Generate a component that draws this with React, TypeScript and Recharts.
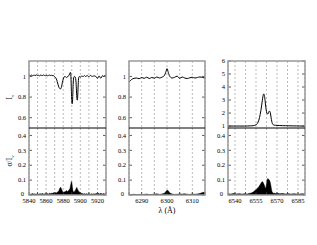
import { ComposedChart, Line, Area, XAxis, YAxis, CartesianGrid } from "recharts";

// Na I D region
const naWave = [
  5840, 5841, 5842, 5843, 5844, 5845, 5846, 5847, 5848, 5849,
  5850, 5851, 5852, 5853, 5854, 5855, 5856, 5857, 5858, 5859,
  5860, 5861, 5862, 5863, 5864, 5865, 5866, 5867, 5868, 5869,
  5870, 5871, 5872, 5873, 5874, 5875, 5876, 5877, 5878, 5879,
  5880, 5881, 5882, 5883, 5884, 5885, 5886, 5887, 5888,
  5888.5, 5889, 5889.5, 5890, 5890.5, 5891, 5891.5, 5892, 5893, 5894, 5895, 5895.5, 5896, 5896.5, 5897, 5897.5, 5898,
  5899, 5900, 5901, 5902, 5903, 5904, 5905, 5906, 5907, 5908,
  5909, 5910, 5911, 5912, 5913, 5914, 5915, 5916, 5917, 5918,
  5919, 5920, 5921, 5922, 5923, 5924, 5925, 5926, 5927, 5928, 5929, 5930,
];
const naFlux = [
  1.01, 1.012, 1.008, 1.013, 1.007, 1.01, 1.014, 1.008, 1.011, 1.015,
  1.009, 1.012, 1.006, 1.011, 1.014, 1.008, 1.01, 1.015, 1.01, 1.007,
  1.012, 1.01, 1.006, 1.011, 1.013, 1.009, 1.012, 1.008, 1.01, 1.005,
  0.998, 0.99, 0.975, 0.95, 0.92, 0.895, 0.882, 0.88, 0.9, 0.94,
  0.975, 0.995, 1.0, 0.995, 0.99, 0.995, 1.005, 1.015, 1.035,
  1.04, 1.0, 0.87, 0.76, 0.735, 0.78, 0.9, 0.975, 1.0, 0.995, 0.94, 0.86, 0.785, 0.77, 0.82, 0.92, 0.985,
  1.0, 0.995, 1.0, 1.005, 0.998, 1.003, 1.008, 1.0, 1.004, 1.009,
  1.003, 0.998, 1.005, 1.01, 1.004, 0.999, 1.006, 1.0, 1.008, 1.0,
  0.99, 0.982, 0.995, 1.005, 0.992, 0.983, 0.995, 1.008, 1.0, 1.005, 1.01, 1.008,
];
const naSigma = [
  0.006, 0.008, 0.005, 0.007, 0.01, 0.006, 0.008, 0.005, 0.007, 0.006,
  0.008, 0.005, 0.007, 0.009, 0.006, 0.008, 0.01, 0.006, 0.007, 0.009,
  0.007, 0.01, 0.008, 0.006, 0.011, 0.009, 0.012, 0.01, 0.013, 0.015,
  0.012, 0.016, 0.014, 0.018, 0.022, 0.03, 0.045, 0.052, 0.04, 0.025,
  0.018, 0.022, 0.02, 0.025, 0.03, 0.022, 0.028, 0.035, 0.045,
  0.06, 0.075, 0.09, 0.085, 0.06, 0.04, 0.025, 0.02, 0.022, 0.03, 0.04, 0.048, 0.05, 0.042, 0.035, 0.03, 0.025,
  0.02, 0.015, 0.012, 0.01, 0.008, 0.007, 0.009, 0.006, 0.008, 0.007,
  0.006, 0.009, 0.007, 0.005, 0.008, 0.006, 0.007, 0.009, 0.006, 0.008,
  0.01, 0.008, 0.012, 0.007, 0.009, 0.011, 0.008, 0.006, 0.01, 0.007, 0.009, 0.006,
];

// [O I] 6300 region
const oiWave = [
  6285, 6286, 6287, 6288, 6289, 6290, 6291, 6292, 6293, 6294,
  6295, 6296, 6297, 6298, 6299,
  6299.5, 6300, 6300.5,
  6301, 6302, 6303, 6304, 6305, 6306, 6307, 6308, 6309, 6310,
  6311, 6312, 6313, 6314, 6315,
];
const oiFlux = [
  0.945, 0.97, 0.982, 0.985, 0.978, 0.99, 0.982, 0.993, 0.98, 0.99,
  0.983, 0.995, 0.985, 0.993, 1.01,
  1.04, 1.075, 1.04,
  1.005, 0.985, 0.992, 1.003, 0.982, 0.995, 0.985, 0.98, 0.987, 0.992,
  0.985, 0.99, 0.995, 0.99, 0.985,
];
const oiSigma = [
  0.004, 0.003, 0.005, 0.003, 0.004, 0.002, 0.004, 0.006, 0.003, 0.004,
  0.005, 0.008, 0.004, 0.006, 0.012,
  0.022, 0.032, 0.028,
  0.015, 0.006, 0.004, 0.005, 0.007, 0.006, 0.008, 0.005, 0.004, 0.006,
  0.005, 0.007, 0.01, 0.016, 0.02,
];

// H-alpha region
const haWave = [
  6535, 6537, 6539, 6541, 6543, 6545, 6547, 6549,
  6550, 6551, 6552, 6553, 6554, 6555, 6556, 6557, 6558, 6559,
  6559.5, 6560, 6560.5, 6561, 6561.5, 6562, 6562.5, 6563, 6563.5, 6564, 6564.5, 6565, 6565.5, 6566, 6566.5, 6567, 6567.5, 6568,
  6569, 6570, 6572, 6574, 6576, 6578, 6580, 6582, 6584, 6586, 6588, 6590,
];
const haFlux = [
  1.0, 1.0, 1.0, 1.0, 1.0, 1.0, 1.0, 1.005,
  1.01, 1.015, 1.02, 1.03, 1.05, 1.1, 1.2, 1.45, 1.9, 2.55,
  2.95, 3.3, 3.47, 3.35, 2.95, 2.45, 2.1, 1.95, 1.93, 2.05, 2.15, 2.1, 1.85, 1.5, 1.25, 1.13, 1.09, 1.07,
  1.06, 1.05, 1.04, 1.03, 1.025, 1.02, 1.015, 1.01, 1.01, 1.005, 1.0, 1.0,
];
const haSigma = [
  0.008, 0.006, 0.01, 0.007, 0.009, 0.006, 0.008, 0.007,
  0.01, 0.012, 0.015, 0.02, 0.028, 0.035, 0.045, 0.055, 0.07, 0.085,
  0.09, 0.085, 0.075, 0.065, 0.05, 0.045, 0.07, 0.105, 0.11, 0.105, 0.1, 0.09, 0.07, 0.04, 0.02, 0.015, 0.012, 0.012,
  0.01, 0.012, 0.008, 0.01, 0.007, 0.009, 0.006, 0.008, 0.007, 0.006, 0.008, 0.007,
];

const naTicks = [5840, 5850, 5860, 5870, 5880, 5890, 5900, 5910, 5920, 5930];
const naLabels = [5840, 5860, 5880, 5900, 5920];
const oiTicks = [6285, 6290, 6295, 6300, 6305, 6310, 6315];
const oiLabels = [6290, 6300, 6310];
const haTicks = [6540, 6547.5, 6555, 6562.5, 6570, 6577.5, 6585];
const haLabels = [6540, 6555, 6570, 6585];

const fluxTicksLow = [0.6, 0.8, 1];
const fluxTicksHa = [1, 2, 3, 4, 5, 6];
const sigmaTicks = [0, 0.1, 0.2, 0.3, 0.4];

const FONT = "'Liberation Serif', 'DejaVu Serif', serif";
const AXW = 28;
const TOP = 61;
const SUBH = 67;
const XAH = 14;

function build(wave: number[], flux: number[], sigma: number[]) {
  return wave.map((w, i) => ({ wave: w, flux: flux[i], sigma: sigma[i] }));
}

type PanelProps = {
  left: number;
  width: number;
  data: { wave: number[]; flux: number[]; sigma: number[] };
  xDomain: [number, number];
  xTicks: number[];
  xLabels: number[];
  fluxDomain: [number, number];
  fluxTicks: number[];
};

const tickStyle = { fontSize: 6.5, fill: "#000", fontFamily: FONT };
const tickLn = { stroke: "#333", strokeWidth: 0.8 };

// sigma axis label; the "0" sits a little up-left so it clears the first wavelength label
function SigmaTick(props: any) {
  const { x, y, payload } = props;
  const zero = payload.value === 0;
  return (
    <text x={x - (zero ? 2 : 0)} y={y - (zero ? 1.5 : 0)} dy="0.35em" textAnchor="end" {...tickStyle}>
      {payload.value}
    </text>
  );
}

function Panel({ left, width, data, xDomain, xTicks, xLabels, fluxDomain, fluxTicks }: PanelProps) {
  const rows = build(data.wave, data.flux, data.sigma);
  const cw = AXW + width + 1;
  const margin = { top: 0, right: 0, bottom: 0, left: 0 };
  return (
    <>
      <div style={{ position: "absolute", left: left - AXW, top: TOP }}>
        <ComposedChart width={cw} height={SUBH} data={rows} margin={margin}>
          <CartesianGrid horizontal={false} stroke="#aaa" strokeDasharray="2 2" strokeWidth={0.8} />
          <XAxis dataKey="wave" type="number" domain={xDomain} ticks={xTicks} allowDataOverflow hide interval={0} />
          <YAxis yAxisId="l" type="number" domain={fluxDomain} ticks={fluxTicks} allowDataOverflow width={AXW} interval={0}
            tickSize={-3} tickMargin={6} axisLine={false} tickLine={tickLn} tick={tickStyle} />
          <YAxis yAxisId="r" orientation="right" type="number" domain={fluxDomain} ticks={fluxTicks} allowDataOverflow width={1}
            interval={0} tickSize={-3} axisLine={false} tickLine={tickLn} tickFormatter={() => ""} />
          <Line yAxisId="l" dataKey="flux" type="monotone" stroke="#000" strokeWidth={1} dot={false} isAnimationActive={false} />
        </ComposedChart>
      </div>
      <div style={{ position: "absolute", left: left - AXW, top: TOP + SUBH }}>
        <ComposedChart width={cw} height={SUBH + XAH} data={rows} margin={margin}>
          <CartesianGrid horizontal={false} stroke="#aaa" strokeDasharray="2 2" strokeWidth={0.8} />
          <XAxis dataKey="wave" type="number" domain={xDomain} ticks={xTicks} allowDataOverflow height={XAH}
            tickSize={-3} tickMargin={6} axisLine={false} tickLine={tickLn} tick={tickStyle}
            tickFormatter={(v: number) => (xLabels.includes(v) ? String(v) : "")} interval={0} />
          <YAxis yAxisId="l" type="number" domain={[0, 0.45]} ticks={sigmaTicks} allowDataOverflow width={AXW} interval={0}
            tickSize={-3} tickMargin={6} axisLine={false} tickLine={tickLn} tick={<SigmaTick />} />
          <YAxis yAxisId="r" orientation="right" type="number" domain={[0, 0.45]} ticks={sigmaTicks} allowDataOverflow width={1}
            interval={0} tickSize={-3} axisLine={false} tickLine={tickLn} tickFormatter={() => ""} />
          <Area yAxisId="l" dataKey="sigma" type="linear" stroke="#000" strokeWidth={0.5} fill="#000" fillOpacity={1}
            baseValue={0} dot={false} isAnimationActive={false} />
        </ComposedChart>
      </div>
    </>
  );
}

const panels = [
  { left: 29, width: 77 },
  { left: 129, width: 76 },
  { left: 228, width: 77 },
];

export default function App() {
  return (
    <div style={{ position: "absolute", left: 0, top: 0, width: 317, height: 245, background: "#fff", fontFamily: FONT }}>
      <style>{`.recharts-surface{overflow:visible}`}</style>
      <Panel left={panels[0].left} width={panels[0].width} data={{ wave: naWave, flux: naFlux, sigma: naSigma }}
        xDomain={[5840, 5930]} xTicks={naTicks} xLabels={naLabels} fluxDomain={[0.5, 1.15]} fluxTicks={fluxTicksLow} />
      <Panel left={panels[1].left} width={panels[1].width} data={{ wave: oiWave, flux: oiFlux, sigma: oiSigma }}
        xDomain={[6285, 6315]} xTicks={oiTicks} xLabels={oiLabels} fluxDomain={[0.5, 1.15]} fluxTicks={fluxTicksLow} />
      <Panel left={panels[2].left} width={panels[2].width} data={{ wave: haWave, flux: haFlux, sigma: haSigma }}
        xDomain={[6535, 6590]} xTicks={haTicks} xLabels={haLabels} fluxDomain={[0.85, 6]} fluxTicks={fluxTicksHa} />
      <svg width={317} height={245} style={{ position: "absolute", left: 0, top: 0, pointerEvents: "none" }}>
        {panels.map((p) => (
          <g key={p.left}>
            <rect x={p.left} y={TOP} width={p.width} height={SUBH * 2} fill="none" stroke="#999" strokeWidth={1.5} />
            <line x1={p.left} x2={p.left + p.width} y1={TOP + SUBH} y2={TOP + SUBH} stroke="#000" strokeWidth={1} />
          </g>
        ))}
        <text transform="translate(12,97) rotate(-90)" textAnchor="middle" fontSize={7.5} fontFamily={FONT}>
          I<tspan fontSize={5} dy={1.5}>ν</tspan>
        </text>
        <text transform="translate(12,161) rotate(-90)" textAnchor="middle" fontSize={7.5} fontFamily={FONT}>
          σ/I<tspan fontSize={5} dy={1.5}>ν</tspan>
        </text>
        <text x={167} y={213} textAnchor="middle" fontSize={8} fontFamily={FONT}>λ (Å)</text>
      </svg>
    </div>
  );
}
